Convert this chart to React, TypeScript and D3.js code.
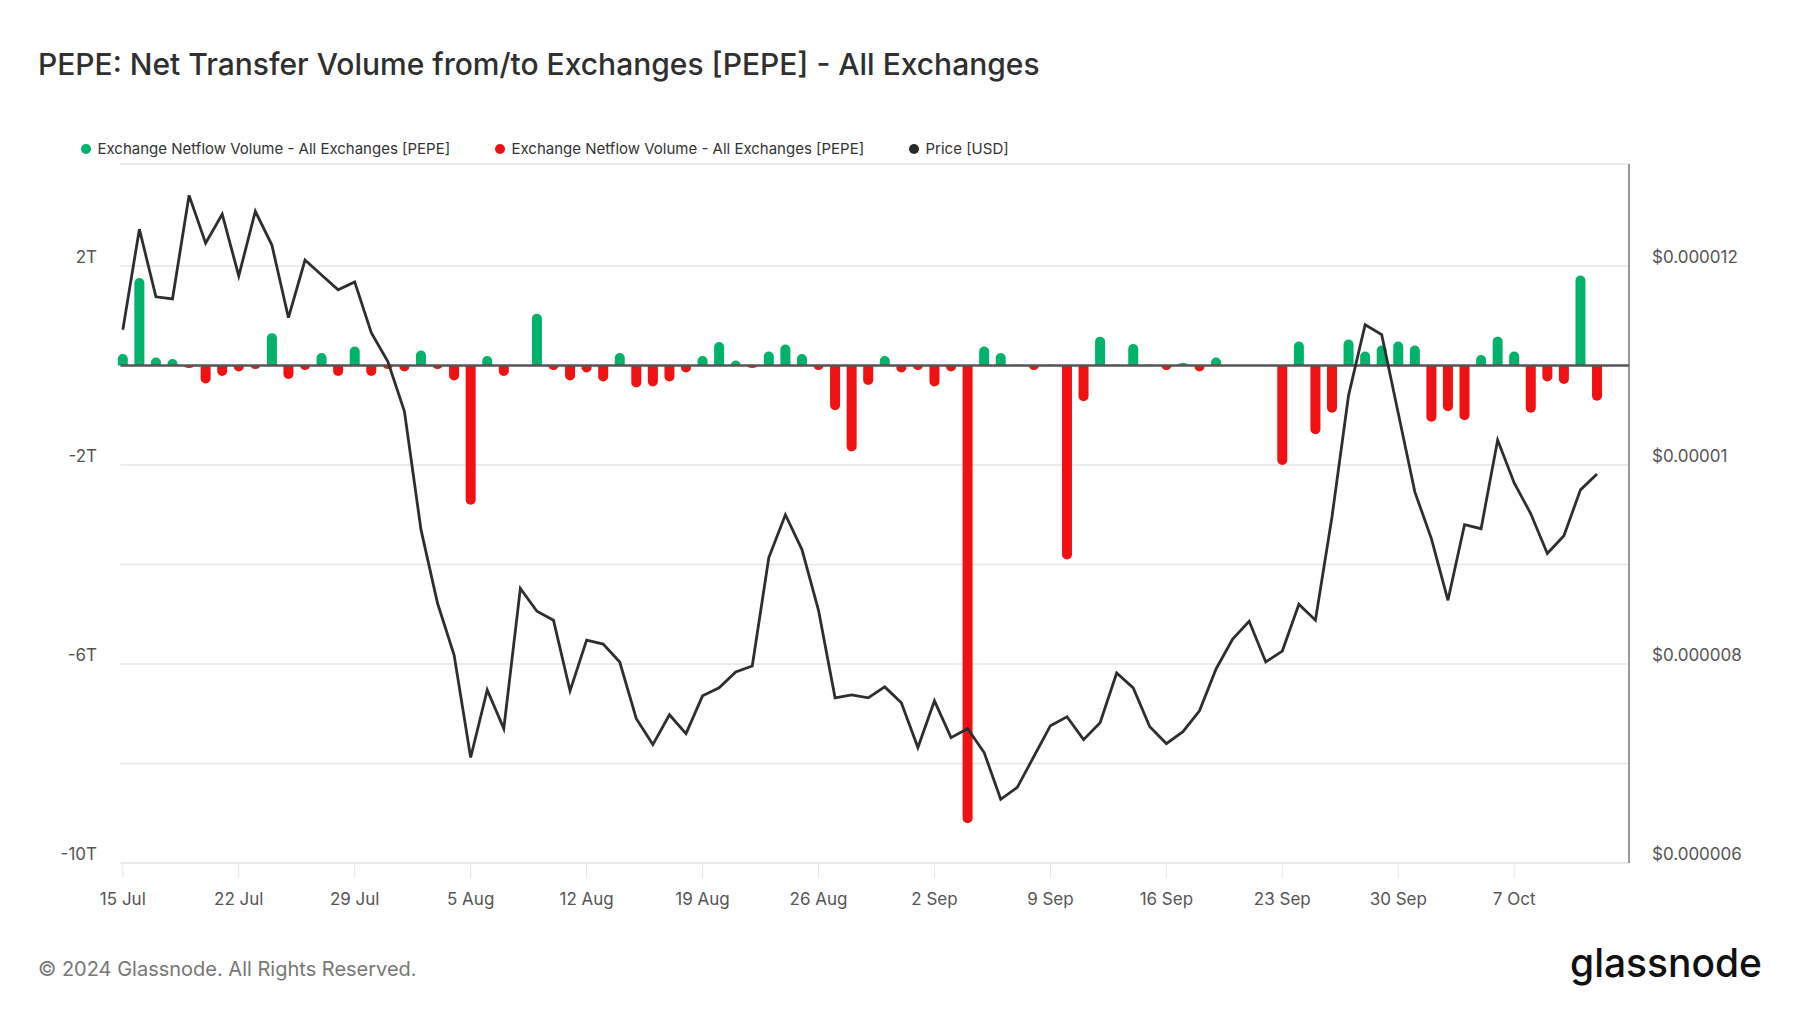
import React from "react";
import * as d3 from "d3";

// ─── Data ────────────────────────────────────────────────────────────────────
// daily points, 15 Jul 2024 → 12 Oct 2024
const START = "2024-07-15";
const END = "2024-10-13";

// Exchange netflow volume, in trillions of PEPE
const NETFLOW_T = [
  0.23, 1.76, 0.16, 0.13, -0.05, -0.36, -0.21, -0.12, -0.07, 0.65,
  -0.27, -0.09, 0.25, -0.21, 0.38, -0.21, -0.07, -0.12, 0.3, -0.07,
  -0.3, -2.8, 0.19, -0.21, 0.01, 1.04, -0.09, -0.3, -0.14, -0.32,
  0.25, -0.44, -0.42, -0.32, -0.14, 0.19, 0.47, 0.1, -0.05, 0.28,
  0.42, 0.23, -0.09, -0.9, -1.73, -0.39, 0.19, -0.14, -0.09, -0.42,
  -0.12, -9.2, 0.38, 0.25, 0.02, -0.09, 0.02, -3.9, -0.72, 0.58,
  0.02, 0.43, 0.02, -0.09, 0.05, -0.12, 0.16, 0.01, 0, 0.01,
  -2.0, 0.48, -1.38, -0.95, 0.52, 0.28, 0.4, 0.48, 0.4, -1.13,
  -0.92, -1.1, 0.21, 0.58, 0.28, -0.95, -0.32, -0.37, 1.81, -0.71,
];

// Price in micro-USD (x 1e-6)
const PRICE_U = [
  11.36, 12.37, 11.69, 11.67, 12.71, 12.23, 12.52, 11.9, 12.55, 12.21,
  11.48, 12.06, 11.91, 11.76, 11.84, 11.33, 11.04, 10.54, 9.35, 8.61,
  8.09, 7.06, 7.74, 7.35, 8.76, 8.53, 8.44, 7.73, 8.24, 8.2,
  8.02, 7.45, 7.19, 7.49, 7.3, 7.68, 7.76, 7.92, 7.98, 9.07,
  9.5, 9.15, 8.54, 7.66, 7.69, 7.66, 7.77, 7.61, 7.16, 7.63,
  7.26, 7.35, 7.11, 6.64, 6.76, 7.07, 7.38, 7.47, 7.24, 7.41,
  7.91, 7.76, 7.37, 7.2, 7.32, 7.53, 7.95, 8.25, 8.43, 8.02,
  8.13, 8.6, 8.44, 9.48, 10.7, 11.41, 11.31, 10.52, 9.73, 9.26,
  8.64, 9.4, 9.36, 10.25, 9.82, 9.51, 9.11, 9.29, 9.75, 9.91,
];

const LEFT_TICKS = [2e12, -2e12, -6e12, -10e12];
const GRID_TICKS = [2e12, -2e12, -4e12, -6e12, -8e12];
const RIGHT_TICKS = [0.000012, 0.00001, 0.000008, 0.000006];

const TITLE = "PEPE: Net Transfer Volume from/to Exchanges [PEPE] - All Exchanges";
const LEGEND = [
  { label: "Exchange Netflow Volume - All Exchanges [PEPE]", color: "#00b26a", x: 86 },
  { label: "Exchange Netflow Volume - All Exchanges [PEPE]", color: "#f01213", x: 500 },
  { label: "Price [USD]", color: "#2b2b2b", x: 914 },
];

// ─── Design tokens ───────────────────────────────────────────────────────────
const W = 1800;
const H = 1013;
const PLOT = { left: 120.5, right: 1629, top: 164, bottom: 863 };
const GREEN = "#00b26a";
const RED = "#f01213";
const PRICE_STROKE = "#2e2e2e";
const GRID = "#e6e6e6";
const AXIS_TEXT = "#555";
const FONT = "Inter, 'Noto Sans', sans-serif";
const DAY = 864e5;

export default function App() {
  const start = new Date(START + "T00:00:00Z");
  const dates = d3.utcDay.range(start, new Date(END + "T00:00:00Z"));
  const t0 = start.getTime();

  const x = d3
    .scaleUtc()
    .domain([new Date(t0 - 0.14 * DAY), new Date(t0 + 90.93 * DAY)])
    .range([PLOT.left, PLOT.right]);
  const yL = d3.scaleLinear().domain([-10e12, 4.05e12]).range([PLOT.bottom, PLOT.top]);
  const yR = d3.scaleLinear().domain([0.000006, 0.000013025]).range([PLOT.bottom, PLOT.top]);

  const weekTicks = d3.utcMonday.range(start, new Date(END + "T00:00:00Z"));
  const fmtDate = d3.utcFormat("%-d %b");
  const fmtPrice = d3.format(".6~f");

  const y0 = yL(0);
  // column with a rounded outer end, flat on the zero line
  const barPath = (d: Date, v: number) => {
    const cx = x(d);
    const hw = 5;
    const y1 = yL(v * 1e12);
    const h = Math.abs(y1 - y0);
    if (h < 0.01) return "";
    const r = Math.min(hw, h);
    if (v > 0) {
      return `M${cx - hw},${y0}V${y1 + r}A${hw},${r} 0 0 1 ${cx + hw},${y1 + r}V${y0}Z`;
    }
    return `M${cx - hw},${y0}V${y1 - r}A${hw},${r} 0 0 0 ${cx + hw},${y1 - r}V${y0}Z`;
  };

  const priceLine = d3
    .line<number>()
    .x((_, i) => x(dates[i]))
    .y((p) => yR(p * 1e-6));

  return (
    <svg
      width={W}
      height={H}
      style={{ position: "absolute", left: 0, top: 0, background: "#fff", fontFamily: FONT }}
    >
      <rect width={W} height={H} fill="#fff" />

      {/* title */}
      <text x={38} y={75} fontSize={30} fill="#2f2f2f" fontWeight={500}>
        {TITLE}
      </text>

      {/* legend */}
      {LEGEND.map((l, i) => (
        <g key={i}>
          <circle cx={l.x} cy={149} r={5} fill={l.color} />
          <text x={l.x + 11.5} y={154} fontSize={15} fill="#333">
            {l.label}
          </text>
        </g>
      ))}

      {/* grid */}
      <line x1={PLOT.left} x2={PLOT.right} y1={PLOT.top} y2={PLOT.top} stroke={GRID} strokeWidth={1.5} />
      {GRID_TICKS.map((t) => (
        <line key={t} x1={PLOT.left} x2={PLOT.right} y1={yL(t)} y2={yL(t)} stroke={GRID} strokeWidth={1.5} />
      ))}
      <line x1={PLOT.left} x2={PLOT.right} y1={PLOT.bottom} y2={PLOT.bottom} stroke="#e0e0e0" strokeWidth={1.5} />

      {/* x ticks */}
      {weekTicks.map((d) => (
        <g key={+d}>
          <line x1={x(d)} x2={x(d)} y1={PLOT.bottom} y2={PLOT.bottom + 15} stroke={GRID} strokeWidth={1} />
          <text x={x(d)} y={905} fontSize={17} fill={AXIS_TEXT} textAnchor="middle">
            {fmtDate(d)}
          </text>
        </g>
      ))}

      {/* left axis labels */}
      {LEFT_TICKS.map((t) => (
        <text key={t} x={97} y={yL(t) - 3} fontSize={17} fill={AXIS_TEXT} textAnchor="end">
          {`${t / 1e12}T`}
        </text>
      ))}

      {/* right axis */}
      <line x1={PLOT.right} x2={PLOT.right} y1={PLOT.top} y2={PLOT.bottom} stroke="#999" strokeWidth={2} />
      {RIGHT_TICKS.map((t) => (
        <text key={t} x={1652} y={yR(t) - 3} fontSize={17} fill={AXIS_TEXT}>
          {`$${fmtPrice(t)}`}
        </text>
      ))}

      {/* bars */}
      {NETFLOW_T.map((v, i) => (
        <path key={i} d={barPath(dates[i], v)} fill={v >= 0 ? GREEN : RED} />
      ))}

      {/* zero line */}
      <line x1={PLOT.left} x2={PLOT.right} y1={y0} y2={y0} stroke="#555" strokeWidth={2.5} />

      {/* price */}
      <path d={priceLine(PRICE_U) ?? ""} fill="none" stroke={PRICE_STROKE} strokeWidth={2.8} />

      {/* footer */}
      <text x={38} y={976} fontSize={20} fill="#777">
        © 2024 Glassnode. All Rights Reserved.
      </text>
      <text
        x={1570}
        y={977}
        fontSize={40}
        fill="#111"
        fontWeight={500}
        textLength={192}
        lengthAdjust="spacingAndGlyphs"
      >
        glassnode
      </text>
    </svg>
  );
}
